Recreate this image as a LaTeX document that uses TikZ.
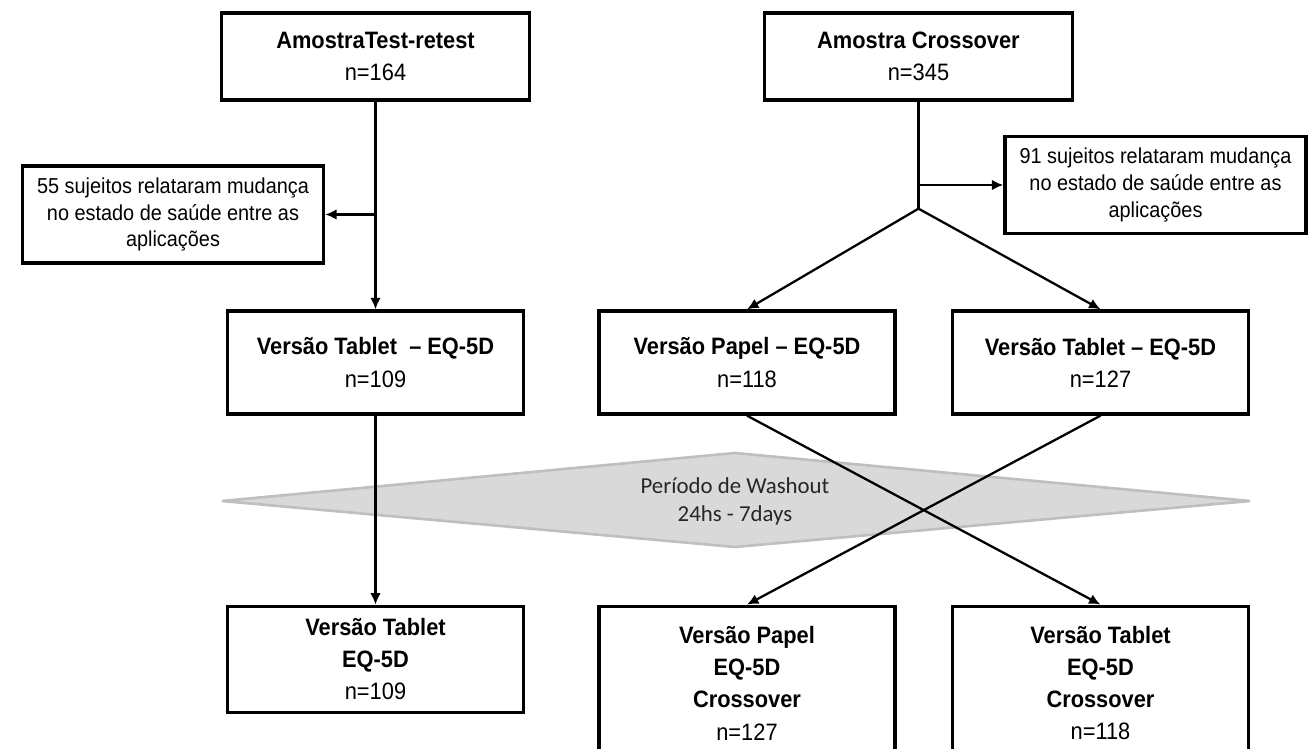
\documentclass[tikz,border=0pt]{standalone}
\usepackage{fontspec}
\setmainfont{Liberation Sans}[FakeStretch=0.92]
\newfontfamily\washoutfont{Carlito}
\usetikzlibrary{positioning}
\usetikzlibrary{calc}
\usetikzlibrary{arrows.meta}

\begin{document}
\begin{tikzpicture}
	[x=0.02cm, y=-0.02cm, >={Latex[length=6.5pt,width=6pt]}]

\def\BoxWidth{5.92cm}
\def\TopWidth{6.15cm}
\def\NoteWidth{6.02cm}
\def\Spacing{3.78cm}

% Styles
\tikzstyle{box} =
	[draw, line width=1.9pt, align=center, inner sep=0pt,
	font=\fontsize{13.5pt}{18.3pt}\selectfont]

\tikzstyle{module} =
	[box, minimum width=\BoxWidth, minimum height=2.06cm]

\tikzstyle{top module} =
	[box, minimum width=\TopWidth, minimum height=1.74cm]

\tikzstyle{note} =
	[box, minimum width=\NoteWidth, minimum height=1.94cm,
	font=\fontsize{12.3pt}{15.3pt}\selectfont]

\tikzstyle{link} =
	[line width=1.3pt]

\useasboundingbox (0,0) rectangle (1309,749);
\clip (0,0) rectangle (1309,749);

% Washout period
\filldraw[fill=black!15, draw=black!25, line width=1.5pt]
	(222,501) -- (735,453) -- (1250,501) -- (735,547) -- cycle;
\node (Washout) at (735,501)
	[align=center, text=black!85, font=\washoutfont\fontsize{13pt}{15.9pt}\selectfont]
	{Período de Washout\\24hs - 7days};

% Modules
\node (TestRetest) at (375.5,56.5) [top module]
	{\textbf{AmostraTest-retest}\\n=164};
\node (Crossover) at (918.5,56.5) [top module]
	{\textbf{Amostra Crossover}\\n=345};

\node (ChangesTest) at (173,214.5) [note]
	{55 sujeitos relataram mudança\\no estado de saúde entre as\\aplicações};
\node (ChangesCross) at (1155.5,185) [note]
	{91 sujeitos relataram mudança\\no estado de saúde entre as\\aplicações};

\node (TabletFirst) at (375.5,362.5) [module]
	{\textbf{Versão Tablet \ – EQ-5D}\\n=109};
\node (PaperFirst) at (747,362.5) [module]
	{\textbf{Versão Papel – EQ-5D}\\n=118};
\node (TabletCross) at (1100.5,362.5) [module]
	{\textbf{Versão Tablet – EQ-5D}\\n=127};

\node (TabletSecond) [module, minimum height=2.12cm, below=\Spacing of TabletFirst]
	{\textbf{Versão Tablet}\\\textbf{EQ-5D}\\n=109};
\node (PaperSecond) [module, minimum height=3.08cm, below=\Spacing of PaperFirst]
	{\textbf{Versão Papel}\\\textbf{EQ-5D}\\\textbf{Crossover}\\n=127};
\node (TabletThird) [module, minimum height=3.08cm, below=\Spacing of TabletCross]
	{\textbf{Versão Tablet}\\\textbf{EQ-5D}\\\textbf{Crossover}\\n=118};

% Edges
\coordinate (Split) at ($(Crossover.south) + (0,107)$);

\path[->, link]
	(TestRetest) edge (TabletFirst)
	(TestRetest.south |- ChangesTest.east) edge (ChangesTest.east)
	(TabletFirst) edge (TabletSecond);

\draw[link] (Crossover.south) -- (Split);
\path[->, link]
	(Crossover.south |- ChangesCross.west) edge (ChangesCross.west)
	(Split) edge (PaperFirst.north)
	(Split) edge (TabletCross.north)
	(PaperFirst.south) edge (TabletThird.north)
	(TabletCross.south) edge (PaperSecond.north);

\end{tikzpicture}
\end{document}
